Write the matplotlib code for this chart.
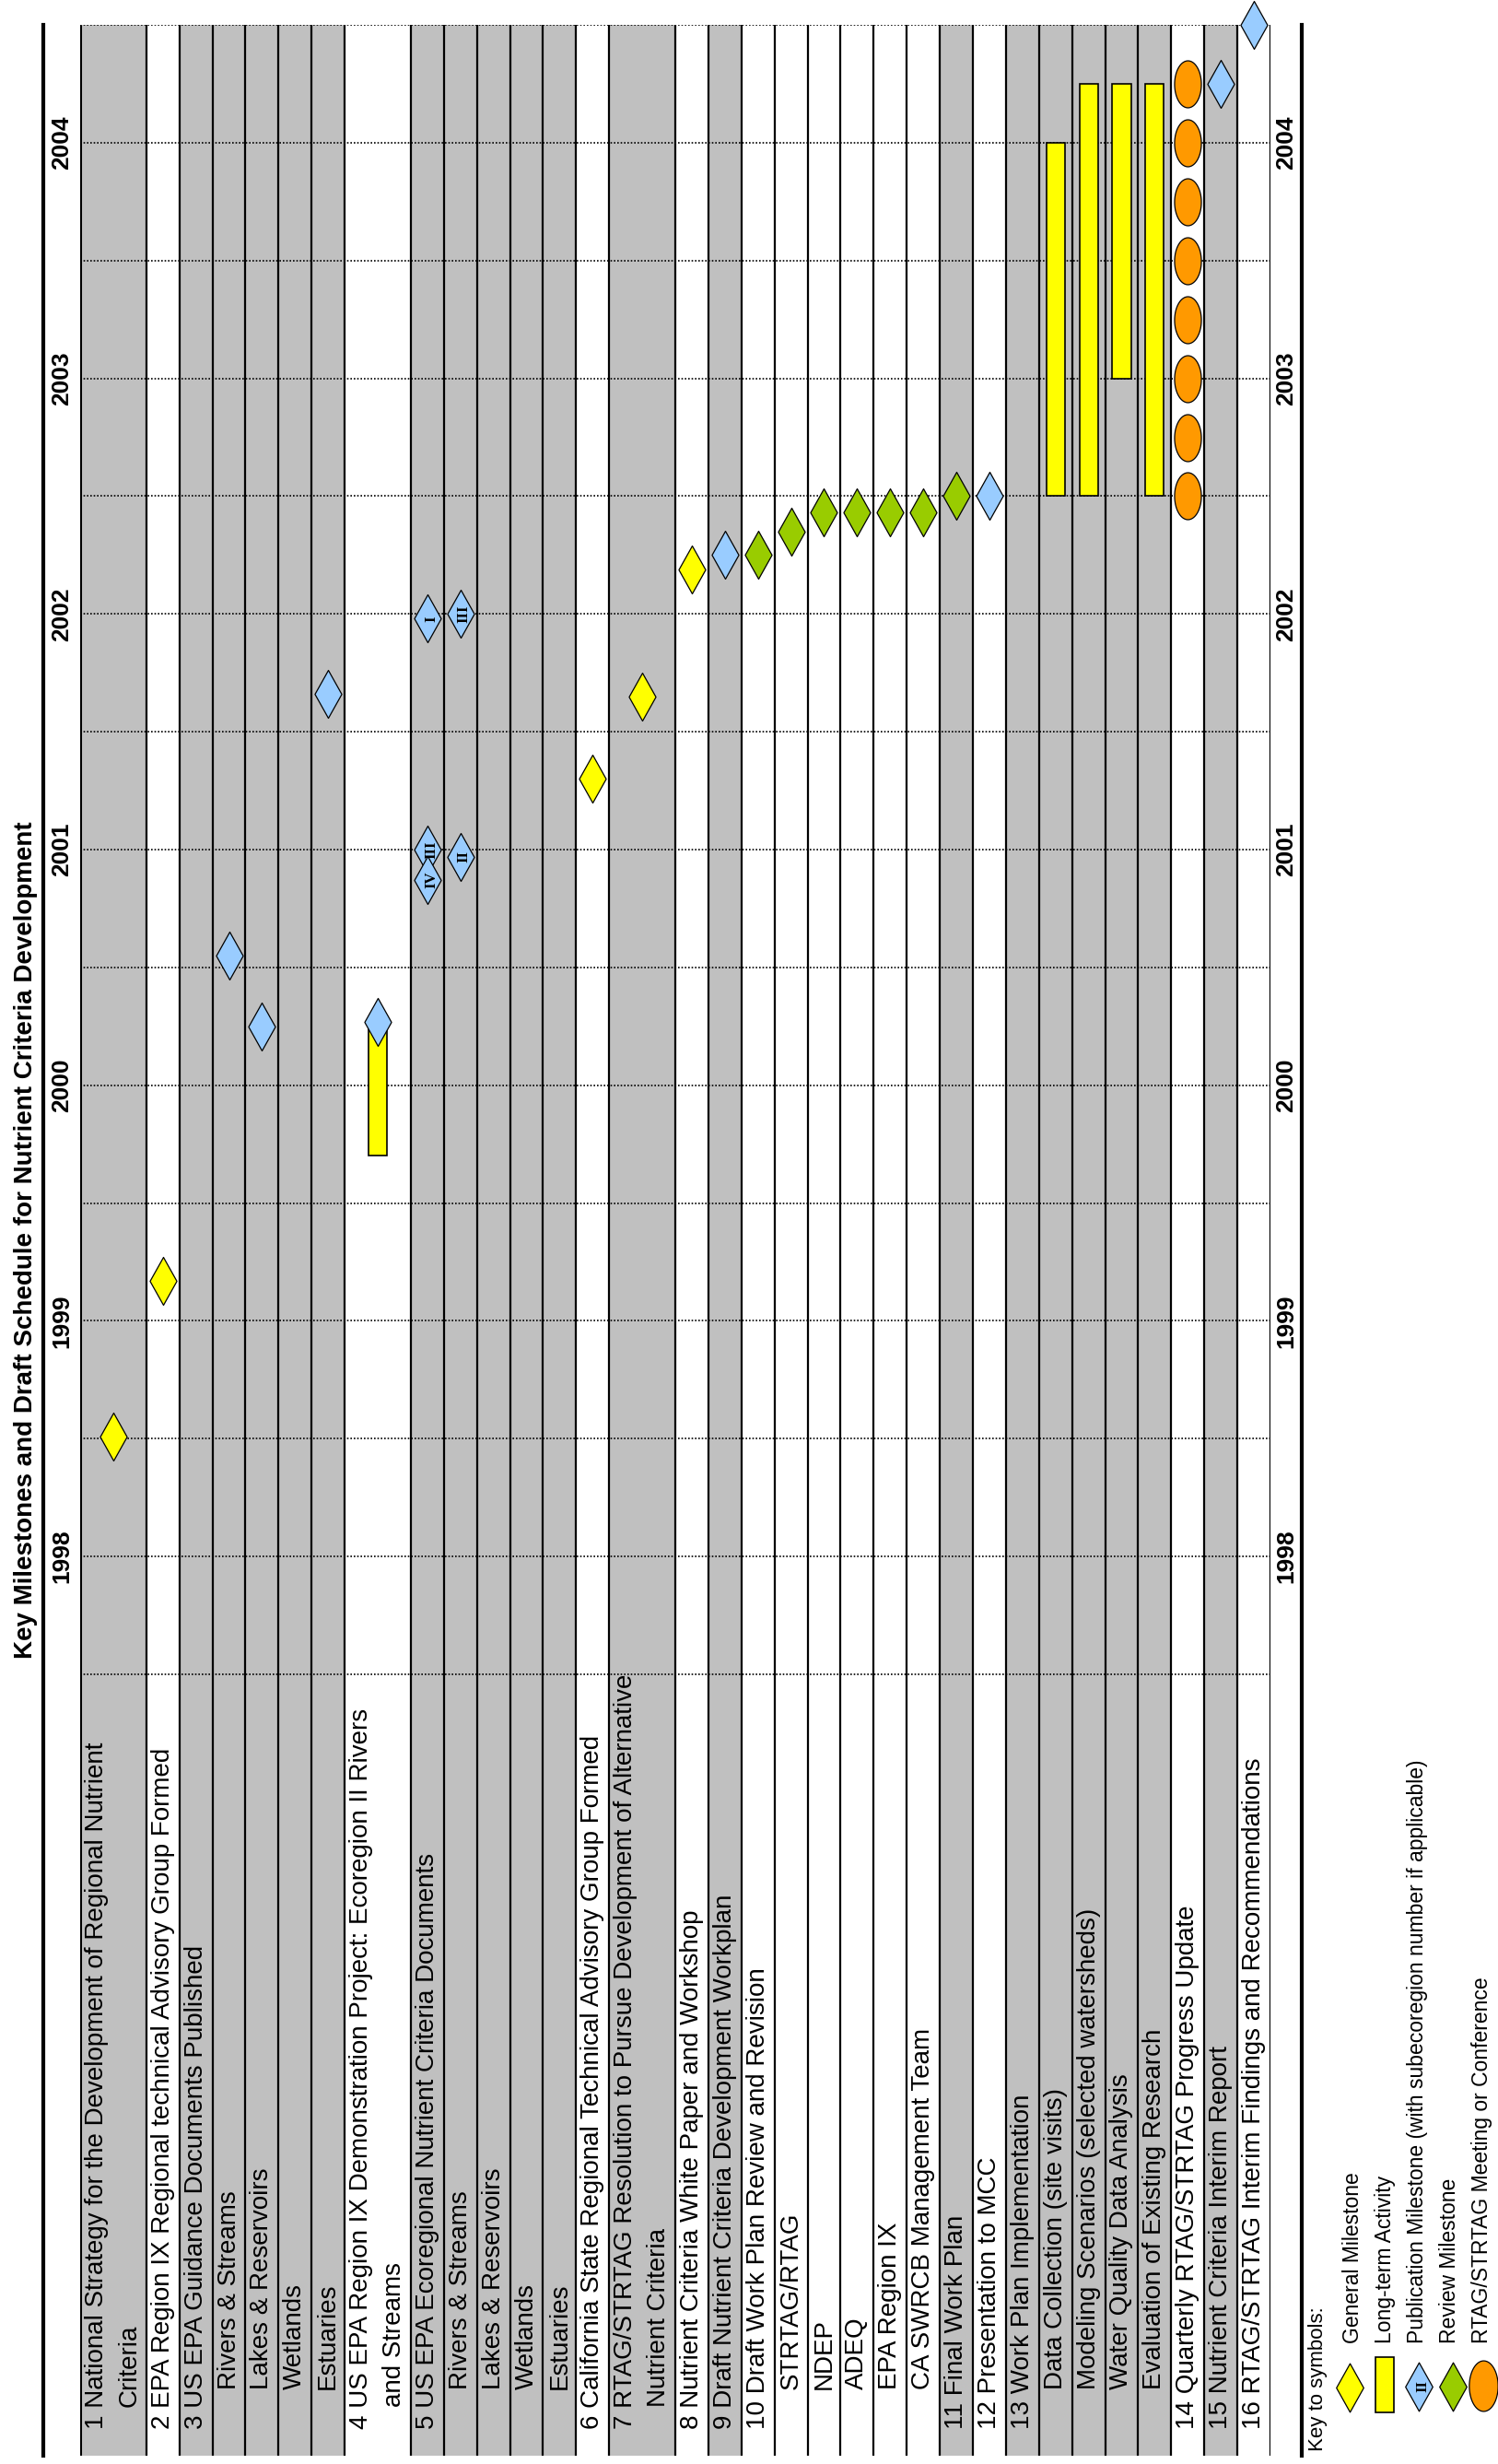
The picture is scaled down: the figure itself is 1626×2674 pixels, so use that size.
import matplotlib
matplotlib.use("Agg")
import matplotlib.pyplot as plt
import matplotlib.transforms as mtransforms
from matplotlib.path import Path
from matplotlib.lines import Line2D
import numpy as np

plt.rcParams['font.family'] = ['Liberation Sans', 'DejaVu Sans']

# ---------------------------------------------------------------- rows
row_labels = [
    "1 National Strategy for the Development of Regional Nutrient\nCriteria",
    "2 EPA Region IX Regional technical Advisory Group Formed",
    "3 US EPA Guidance Documents Published",
    "Rivers & Streams",
    "Lakes & Reservoirs",
    "Wetlands",
    "Estuaries",
    "4 US EPA Region IX Demonstration Project: Ecoregion II Rivers\nand Streams",
    "5 US EPA Ecoregional Nutrient Criteria Documents",
    "Rivers & Streams",
    "Lakes & Reservoirs",
    "Wetlands",
    "Estuaries",
    "6 California State Regional Technical Advisory Group Formed",
    "7 RTAG/STRTAG Resolution to Pursue Development of Alternative\nNutrient Criteria",
    "8 Nutrient Criteria White Paper and Workshop",
    "9 Draft Nutrient Criteria Development Workplan",
    "10 Draft Work Plan Review and Revision",
    "STRTAG/RTAG",
    "NDEP",
    "ADEQ",
    "EPA Region IX",
    "CA SWRCB Management Team",
    "11 Final Work Plan",
    "12 Presentation to MCC",
    "13 Work Plan Implementation",
    "Data Collection (site visits)",
    "Modeling Scenarios (selected watersheds)",
    "Water Quality Data Analysis",
    "Evaluation of Existing Research",
    "14 Quarterly RTAG/STRTAG Progress Update",
    "15 Nutrient Criteria Interim Report",
    "16 RTAG/STRTAG Interim Findings and Recommendations",
]
row_is_sub = [0, 0, 0, 1, 1, 1, 1, 0, 0, 1, 1, 1, 1, 0, 0, 0, 0, 0,
              1, 1, 1, 1, 1, 0, 0, 0, 1, 1, 1, 1, 0, 0, 0]
row_item = [1, 2, 3, 3, 3, 3, 3, 4, 5, 5, 5, 5, 5, 6, 7, 8, 9, 10,
            10, 10, 10, 10, 10, 11, 12, 13, 13, 13, 13, 13, 14, 15, 16]

# ---------------------------------------------------------------- events
general_rows = [0, 1, 13, 14, 15]
general_dates = [1998.51, 1999.17, 2001.30, 2001.65, 2002.19]

pub_rows = [3, 4, 6, 7, 8, 8, 8, 9, 9, 16, 24, 31, 32]
pub_dates = [2000.55, 2000.25, 2001.66, 2000.27, 2001.98, 2001.00, 2000.87,
             2002.00, 2000.97, 2002.25, 2002.50, 2004.25, 2004.50]
pub_tags = ["", "", "", "", "I", "III", "IV", "III", "II", "", "", "", ""]

review_rows = [17, 18, 19, 20, 21, 22, 23]
review_dates = [2002.25, 2002.35, 2002.43, 2002.43, 2002.43, 2002.43, 2002.50]

activity_rows = [7, 26, 27, 28, 29]
activity_start = [1999.70, 2002.50, 2002.50, 2003.00, 2002.50]
activity_end = [2000.25, 2004.00, 2004.25, 2004.25, 2004.25]

meeting_row = 30
meeting_dates = [2002.50, 2002.75, 2003.00, 2003.25, 2003.50, 2003.75,
                 2004.00, 2004.25]

years = [1998, 1999, 2000, 2001, 2002, 2003, 2004]

legend_labels = ["General Milestone", "Long-term Activity",
                 "Publication Milestone (with subecoregion number if applicable)",
                 "Review Milestone", "RTAG/STRTAG Meeting or Conference"]

# ---------------------------------------------------------------- styles
GRAY = "#C0C0C0"
YELLOW = "#FFFF00"
BLUE = "#99CCFF"
GREEN = "#99CC00"
ORANGE = "#FF9900"

diamond = Path([(0, 1), (0.56, 0), (0, -1), (-0.56, 0), (0, 1)],
               [Path.MOVETO, Path.LINETO, Path.LINETO, Path.LINETO, Path.CLOSEPOLY])
_t = np.linspace(0, 2 * np.pi, 73)
oval = Path(np.column_stack([0.57 * np.cos(_t), np.sin(_t)]), closed=True)

W, H = 1626, 2674
fig = plt.figure(figsize=(W / 100, H / 100), dpi=100)
fig.patch.set_facecolor("white")

# layout (pixels)
X0, X1 = 87, 1379          # schedule columns
Y_TOP, Y_T0, Y_BOT = 27, 1817, 2665   # top, 1997.5 line, bottom of table
T_TOP, T_BOT = 2004.5, 1997.5
per_year = (Y_T0 - Y_TOP) / (T_TOP - T_BOT)
y_lo = T_BOT - (Y_BOT - Y_T0) / per_year

ax = fig.add_axes([X0 / W, 1 - Y_BOT / H, (X1 - X0) / W, (Y_BOT - Y_TOP) / H])
n_units = sum(2 if "\n" in s else 1 for s in row_labels)
ax.set_xlim(0, n_units)
ax.set_ylim(y_lo, T_TOP)
ax.set_axis_off()

# row spans
starts, centers = [], []
pos = 0
for lab in row_labels:
    u = 2 if "\n" in lab else 1
    starts.append(pos)
    centers.append(pos + u / 2)
    pos += u
ends = starts[1:] + [pos]

for s, e, item in zip(starts, ends, row_item):
    if item % 2 == 1:
        ax.axvspan(s, e, color=GRAY, lw=0, zorder=0)

# half-year dotted grid in the time area
half_years = np.arange(T_BOT, T_TOP + 0.01, 0.5)
ax.hlines(half_years, 0, n_units, colors="black", linestyles=(0, (1, 1.2)),
          lw=1.2, zorder=1)

# row separators
bounds = [0] + ends
ax.vlines(bounds, y_lo, T_TOP, colors="black", lw=1.6, zorder=2)
ax.vlines([0], y_lo, T_TOP, colors="black", lw=2.2, zorder=2)

# long-term activity bars
ax.bar([centers[r] for r in activity_rows],
       [e - s for s, e in zip(activity_start, activity_end)],
       bottom=activity_start, width=0.56, color=YELLOW, edgecolor="black",
       lw=1.2, zorder=3)

mk = dict(linestyle="none", mec="black", mew=0.9, clip_on=False, zorder=4)
ax.plot([centers[r] for r in general_rows], general_dates, marker=diamond,
        ms=37.4, mfc=YELLOW, **mk)
for r, d, tag in zip(pub_rows, pub_dates, pub_tags):
    ax.plot([centers[r]], [d], marker=diamond, ms=37.4, mfc=BLUE, **mk)
    if tag:
        ax.annotate(tag, (centers[r], d), xytext=(3, 0), textcoords="offset points",
                    rotation=90, ha="center", va="center", fontsize=12,
                    fontweight="bold", family="Liberation Serif", zorder=5)
ax.plot([centers[r] for r in review_rows], review_dates, marker=diamond,
        ms=37.4, mfc=GREEN, **mk)
ax.plot([centers[meeting_row]] * len(meeting_dates), meeting_dates, marker=oval,
        ms=36.7, mfc=ORANGE, **mk)

# row labels
lab_tf = mtransforms.blended_transform_factory(ax.transData, ax.transAxes)
for lab, s, sub in zip(row_labels, starts, row_is_sub):
    lines = lab.split("\n")
    for i, line in enumerate(lines):
        if sub:
            off = 52
        elif i == 0:
            off = 21
        else:
            off = 38
        ax.annotate(line, (s + 0.5 + i, 0), xycoords=lab_tf, xytext=(0, off),
                    textcoords="offset points", rotation=90, rotation_mode="anchor",
                    ha="left", va="center", fontsize=20, zorder=5)

# year labels on both sides
yr_tf = mtransforms.blended_transform_factory(ax.transAxes, ax.transData)
for yr in years:
    for xa in ((67 - X0) / (X1 - X0), (1396 - X0) / (X1 - X0)):
        ax.text(xa, yr, str(yr), transform=yr_tf, rotation=90, ha="center",
                va="center", fontsize=19, fontweight="bold")

# outer rules
for xp in (47, 1413):
    fig.add_artist(Line2D([xp / W, xp / W], [1 - Y_TOP / H, 1 - Y_BOT / H],
                          color="black", lw=3.0))

fig.text(28 / W, 1 - 1346 / H,
         "Key Milestones and Draft Schedule for Nutrient Criteria Development",
         rotation=90, ha="center", va="center", fontsize=20, fontweight="bold")

# key to symbols
kx0, ky0 = 1413, 2250
kax = fig.add_axes([kx0 / W, 1 - H / H, (W - kx0) / W, (H - ky0) / H])
kax.set_xlim(0, W - kx0)
kax.set_ylim(H - ky0, 0)
kax.set_axis_off()
kax.text(17, 410, "Key to symbols:", rotation=90, rotation_mode="anchor",
         ha="left", va="center", fontsize=16)
sym_x = [52, 90, 127, 164, 197]
txt_x = [55, 90, 125, 160, 195]
kax.plot([sym_x[0]], [341], marker=diamond, ms=38, mfc=YELLOW, **mk)
kax.bar([sym_x[1]], [60], bottom=[308], width=20, color=YELLOW,
        edgecolor="black", lw=1.2)
kax.plot([sym_x[2]], [340], marker=diamond, ms=38, mfc=BLUE, **mk)
kax.text(sym_x[2] + 4, 340, "II", rotation=90, ha="center", va="center",
         fontsize=12, fontweight="bold", family="Liberation Serif", zorder=6)
kax.plot([sym_x[3]], [340], marker=diamond, ms=38, mfc=GREEN, **mk)
kax.plot([sym_x[4]], [339], marker=oval, ms=39.5, mfc=ORANGE, **mk)
for x, t in zip(txt_x, legend_labels):
    kax.text(x, 293, t, rotation=90, rotation_mode="anchor", ha="left",
             va="center", fontsize=16.5)

fig.savefig("out.png", dpi=100, facecolor="white")
